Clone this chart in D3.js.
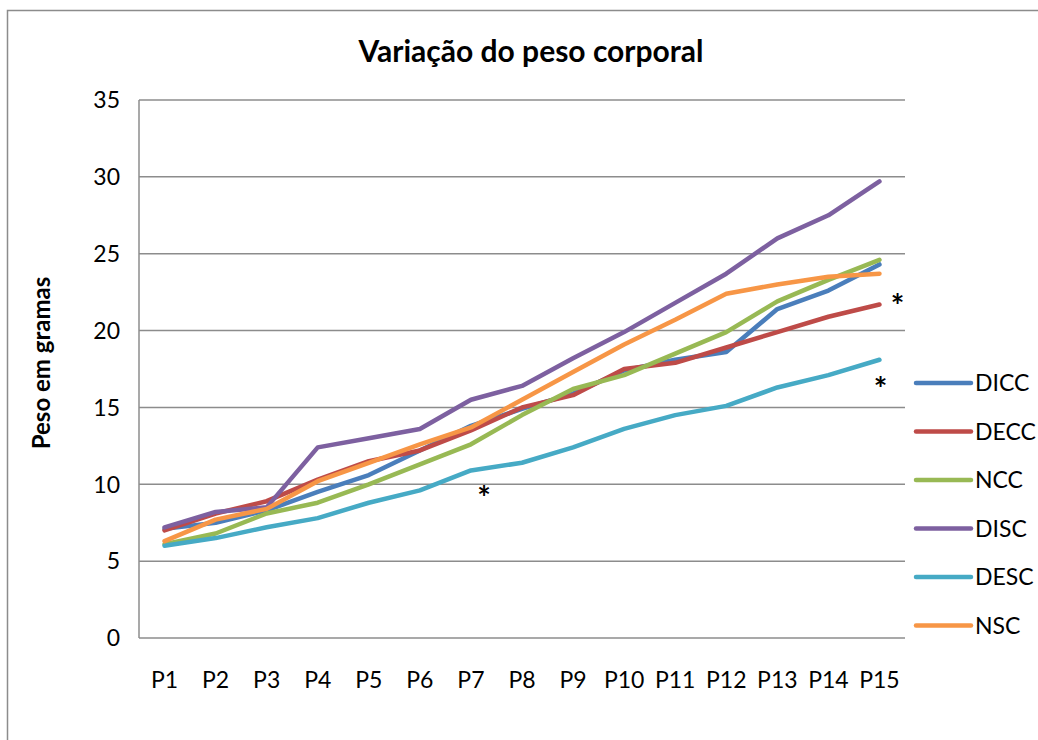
<!DOCTYPE html>
<html>
<head>
<meta charset="utf-8">
<script src="https://cdn.jsdelivr.net/npm/d3@7"></script>
<style>
  body { margin: 0; background: #fff; }
  text { font-family: Lato, "Open Sans", sans-serif; fill: #000; }
</style>
</head>
<body>
<svg class="weight-chart"></svg>
<script>
var categories = ["P1", "P2", "P3", "P4", "P5", "P6", "P7", "P8", "P9", "P10", "P11", "P12", "P13", "P14", "P15"];

var dicc = [7.1, 7.5, 8.3, 9.5, 10.6, 12.2, 13.8, 14.9, 15.9, 17.4, 18.1, 18.6, 21.4, 22.6, 24.3];
var decc = [7.0, 8.1, 8.9, 10.3, 11.5, 12.2, 13.5, 15.0, 15.8, 17.5, 17.9, 18.9, 19.9, 20.9, 21.7];
var ncc  = [6.1, 6.8, 8.1, 8.8, 10.0, 11.3, 12.6, 14.5, 16.2, 17.1, 18.5, 19.9, 21.9, 23.3, 24.6];
var disc = [7.2, 8.2, 8.5, 12.4, 13.0, 13.6, 15.5, 16.4, 18.2, 19.9, 21.8, 23.7, 26.0, 27.5, 29.7];
var desc = [6.0, 6.5, 7.2, 7.8, 8.8, 9.6, 10.9, 11.4, 12.4, 13.6, 14.5, 15.1, 16.3, 17.1, 18.1];
var nsc  = [6.3, 7.7, 8.4, 10.2, 11.4, 12.6, 13.7, 15.5, 17.3, 19.1, 20.7, 22.4, 23.0, 23.5, 23.7];

var seriesNames = ["DICC", "DECC", "NCC", "DISC", "DESC", "NSC"];
var seriesValues = [dicc, decc, ncc, disc, desc, nsc];
var seriesColors = ["#4a7ebb", "#be4b48", "#98b954", "#7d60a0", "#46aac5", "#f79646"];

var yTicks = [0, 5, 10, 15, 20, 25, 30, 35];

// significance marks: category, value where the * sits, pixel nudge right
var marks = [
  {cat: "P7", value: 9.5, dx: 13},
  {cat: "P15", value: 22.0, dx: 18},
  {cat: "P15", value: 16.6, dx: 1}
];

var margin = {top: 100, bottom: 102, left: 139, right: 133},
    width = 1038 - margin.left - margin.right,
    height = 740 - margin.top - margin.bottom;

var svg = d3.select(".weight-chart")
    .attr("width", 1038)
    .attr("height", 740);

// chart area border
svg.append("rect")
    .attr("x", 7.5).attr("y", 10.5)
    .attr("width", 1100).attr("height", 800)
    .attr("fill", "none")
    .attr("stroke", "#8c8c8c")
    .attr("stroke-width", 1.5);

svg.append("text")
    .attr("x", 531)
    .attr("y", 62)
    .style("text-anchor", "middle")
    .style("font-weight", "bold")
    .style("font-size", "30px")
    .text("Variação do peso corporal");

var g = svg.append("g")
    .attr("transform", "translate(" + margin.left + "," + margin.top + ")");

var x = d3.scaleBand().domain(categories).range([0, width]);
var y = d3.scaleLinear().domain([0, 35]).range([height, 0]);

function cx(c) { return x(c) + x.bandwidth() / 2; }

// gridlines
g.selectAll(".grid")
    .data(yTicks)
  .enter().append("line")
    .attr("class", "grid")
    .attr("x1", 0).attr("x2", width)
    .attr("y1", function(d) { return y(d); })
    .attr("y2", function(d) { return y(d); })
    .attr("stroke", "#8c8c8c")
    .attr("stroke-width", 1.5);

g.append("line")
    .attr("x1", 0).attr("x2", 0)
    .attr("y1", 0).attr("y2", height)
    .attr("stroke", "#8c8c8c")
    .attr("stroke-width", 1.5);

// y tick labels
g.selectAll(".ytick")
    .data(yTicks)
  .enter().append("text")
    .attr("class", "ytick")
    .attr("x", -19)
    .attr("y", function(d) { return y(d); })
    .attr("dy", "0.36em")
    .style("text-anchor", "end")
    .style("font-size", "23px")
    .text(function(d) { return d; });

// x tick labels
g.selectAll(".xtick")
    .data(categories)
  .enter().append("text")
    .attr("class", "xtick")
    .attr("x", function(d) { return cx(d); })
    .attr("y", height + 50)
    .style("text-anchor", "middle")
    .style("font-size", "23px")
    .text(function(d) { return d; });

svg.append("text")
    .attr("transform", "translate(50," + (margin.top + height / 2 - 6) + ") rotate(-90)")
    .style("text-anchor", "middle")
    .style("font-weight", "bold")
    .style("font-size", "24px")
    .text("Peso em gramas");

var line = d3.line()
    .x(function(d, i) { return cx(categories[i]); })
    .y(function(d) { return y(d); });

g.selectAll(".series")
    .data(seriesValues)
  .enter().append("path")
    .attr("class", "series")
    .attr("d", line)
    .attr("fill", "none")
    .attr("stroke", function(d, i) { return seriesColors[i]; })
    .attr("stroke-width", 4.5)
    .attr("stroke-linejoin", "round")
    .attr("stroke-linecap", "round");

g.selectAll(".mark")
    .data(marks)
  .enter().append("text")
    .attr("class", "mark")
    .attr("x", function(d) { return cx(d.cat) + d.dx; })
    .attr("y", function(d) { return y(d.value); })
    .attr("dy", "0.56em")
    .style("text-anchor", "middle")
    .style("font-size", "32px")
    .style("font-weight", "bold")
    .text("*");

// legend
var legend = svg.selectAll(".legend")
    .data(seriesNames)
  .enter().append("g")
    .attr("class", "legend")
    .attr("transform", function(d, i) { return "translate(916," + (383 + i * 48.5) + ")"; });

legend.append("line")
    .attr("x1", 0).attr("x2", 55)
    .attr("stroke", function(d, i) { return seriesColors[i]; })
    .attr("stroke-width", 4.5)
    .attr("stroke-linecap", "round");

legend.append("text")
    .attr("x", 59)
    .attr("dy", "0.36em")
    .style("font-size", "23px")
    .text(function(d) { return d; });
</script>
</body>
</html>
